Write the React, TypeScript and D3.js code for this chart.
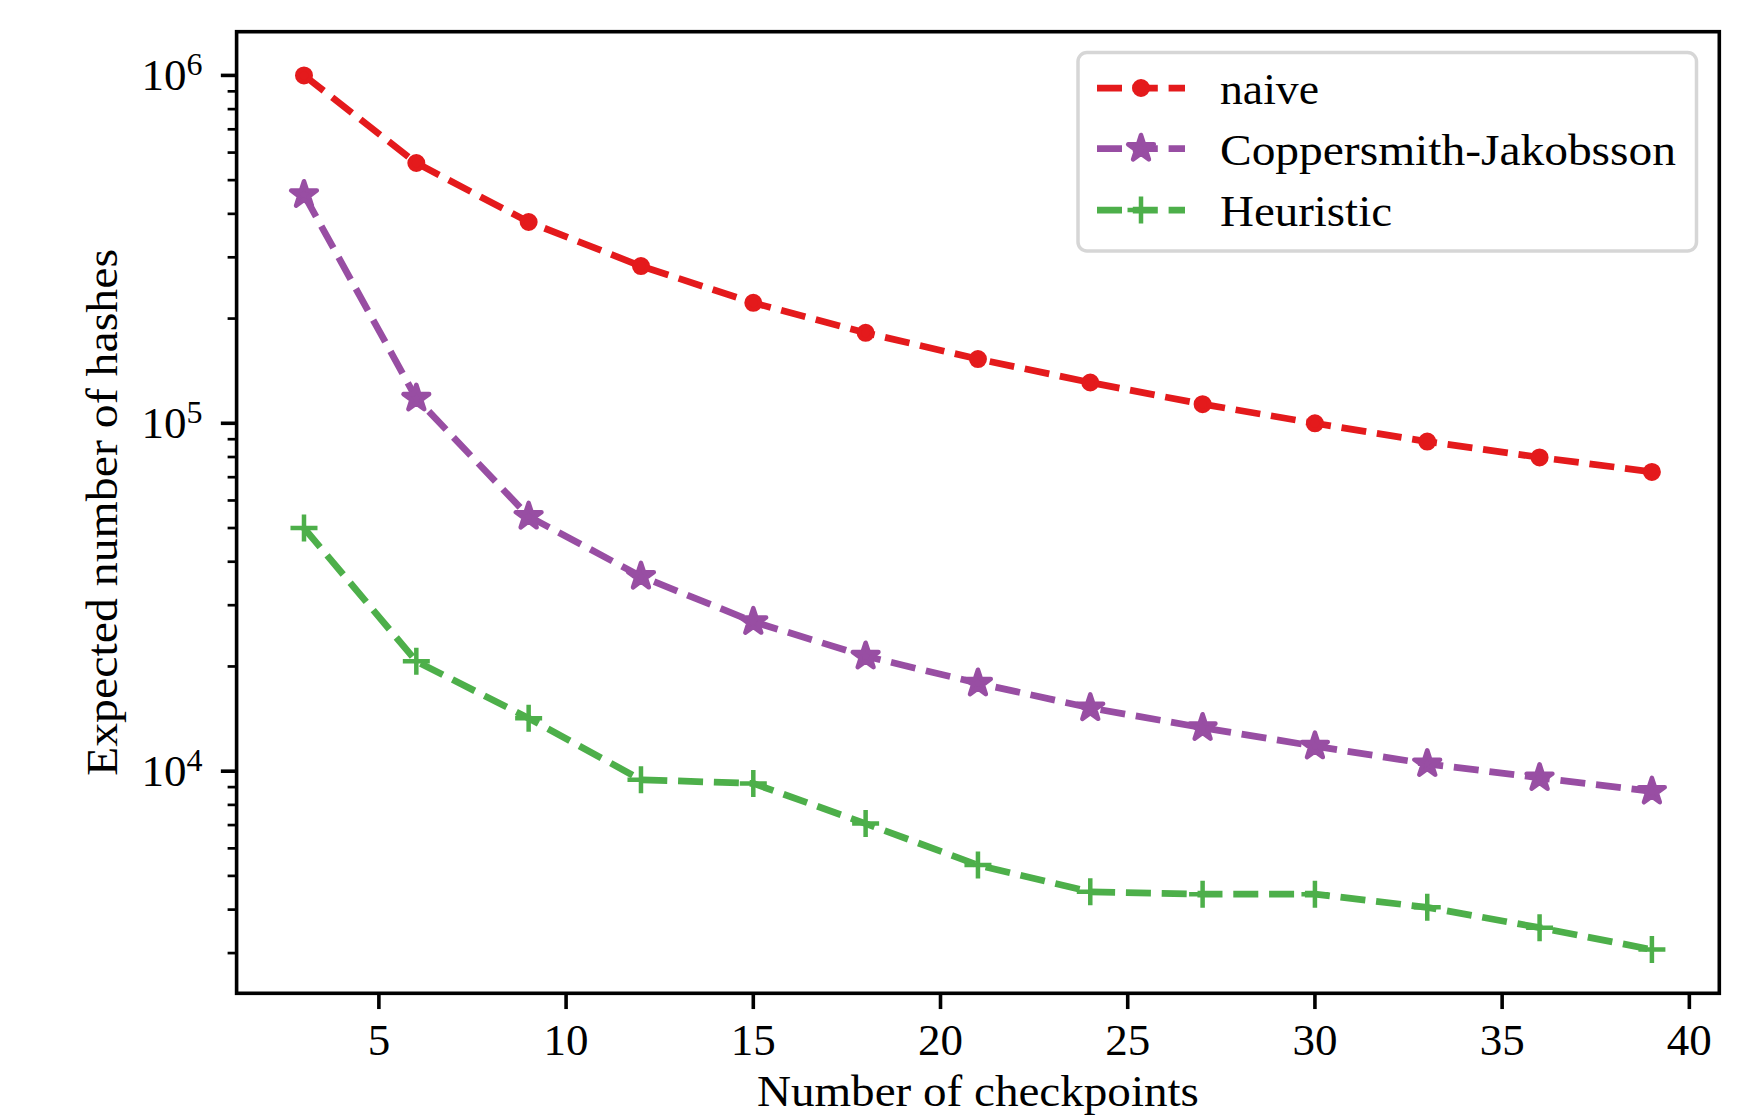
import React, { useEffect, useRef } from 'react';
import * as d3 from 'd3';

// values
const checkpoints = [3, 6, 9, 12, 15, 18, 21, 24, 27, 30, 33, 36, 39];
const naiveHashes = [1.0e6, 5.6e5, 3.79e5, 2.83e5, 2.22e5, 1.82e5, 1.53e5, 1.31e5, 1.135e5, 1.0e5, 8.86e4, 7.98e4, 7.25e4];
const coppersmithHashes = [4.54e5, 1.18e5, 5.4e4, 3.63e4, 2.69e4, 2.14e4, 1.79e4, 1.52e4, 1.333e4, 1.18e4, 1.05e4, 9.57e3, 8.75e3];
const heuristicHashes = [5.0e4, 2.07e4, 1.42e4, 9.45e3, 9.22e3, 7.07e3, 5.37e3, 4.5e3, 4.43e3, 4.43e3, 4.06e3, 3.55e3, 3.07e3];

const seriesNames = ['naive', 'Coppersmith-Jakobsson', 'Heuristic'];
const seriesColors = ['#e41a1c', '#984ea3', '#4daf4a'];
const seriesMarkers = ['dot', 'star', 'plus'];

const xTicks = [5, 10, 15, 20, 25, 30, 35, 40];
const yMajorTicks = [1e4, 1e5, 1e6];
const yTickExponents = ['4', '5', '6'];

const xLabel = 'Number of checkpoints';
const yLabel = 'Expected number of hashes';

const FONT = '"Liberation Serif", "DejaVu Serif", serif';

function App() {
  return (
    <div>
      <HashChart />
    </div>
  );
}

function drawMarker(g, kind, color, cx, cy) {
  if (kind === 'dot') {
    g.append('circle')
      .attr('cx', cx).attr('cy', cy).attr('r', 6.75)
      .attr('fill', color).attr('stroke', color).attr('stroke-width', 4.5);
  } else if (kind === 'star') {
    // outer radius 13.5px -> d3 star area
    const star = d3.symbol(d3.symbolStar, (13.5 * 13.5) / 0.8908130915292852);
    g.append('path')
      .attr('d', star())
      .attr('transform', `translate(${cx},${cy})`)
      .attr('fill', color).attr('stroke', color)
      .attr('stroke-width', 4.5).attr('stroke-linejoin', 'round');
  } else {
    const p = d3.path();
    p.moveTo(-13.5, 0); p.lineTo(13.5, 0);
    p.moveTo(0, -13.5); p.lineTo(0, 13.5);
    g.append('path')
      .attr('d', p.toString())
      .attr('transform', `translate(${cx},${cy})`)
      .attr('fill', 'none').attr('stroke', color).attr('stroke-width', 4.5);
  }
}

function HashChart() {
  const d3Container = useRef(null);

  useEffect(() => {
    if (!d3Container.current) return;
    const width = 1750;
    const height = 1118;
    const margin = { top: 31.7, right: 30.7, bottom: 124.7, left: 236.6 };
    const plotRight = width - margin.right;
    const plotBottom = height - margin.bottom;

    d3.select(d3Container.current).select('svg').remove();

    const svg = d3.select(d3Container.current)
      .append('svg')
      .attr('width', width)
      .attr('height', height)
      .style('position', 'absolute')
      .style('left', 0)
      .style('top', 0)
      .style('background', '#ffffff')
      .style('font-family', FONT);

    const allSeries = [naiveHashes, coppersmithHashes, heuristicHashes];

    // matplotlib-like 5% margins
    const xMin = d3.min(checkpoints), xMax = d3.max(checkpoints);
    const xPad = (xMax - xMin) * 0.05;
    const x = d3.scaleLinear()
      .domain([xMin - xPad, xMax + xPad])
      .range([margin.left, plotRight]);

    const lo = Math.log10(d3.min(allSeries.flat()));
    const hi = Math.log10(d3.max(allSeries.flat()));
    const lPad = (hi - lo) * 0.05;
    const y = d3.scaleLog()
      .domain([Math.pow(10, lo - lPad), Math.pow(10, hi + lPad)])
      .range([plotBottom, margin.top]);

    // lines + markers
    const line = d3.line()
      .x((d, i) => x(checkpoints[i]))
      .y(d => y(d));

    allSeries.forEach((values, s) => {
      const g = svg.append('g');
      g.append('path')
        .datum(values)
        .attr('d', line)
        .attr('fill', 'none')
        .attr('stroke', seriesColors[s])
        .attr('stroke-width', 6.75)
        .attr('stroke-dasharray', '25 10.8')
        .attr('stroke-linejoin', 'round');
      values.forEach((v, i) => drawMarker(g, seriesMarkers[s], seriesColors[s], x(checkpoints[i]), y(v)));
    });

    // frame
    svg.append('rect')
      .attr('x', margin.left).attr('y', margin.top)
      .attr('width', plotRight - margin.left).attr('height', plotBottom - margin.top)
      .attr('fill', 'none').attr('stroke', '#000').attr('stroke-width', 3.6);

    // x ticks
    xTicks.forEach(t => {
      svg.append('line')
        .attr('x1', x(t)).attr('x2', x(t))
        .attr('y1', plotBottom).attr('y2', plotBottom + 15.75)
        .attr('stroke', '#000').attr('stroke-width', 3.6);
      svg.append('text')
        .attr('x', x(t)).attr('y', plotBottom + 62)
        .attr('text-anchor', 'middle')
        .attr('font-size', 45)
        .text(String(t));
    });

    // y minor ticks
    const [dLo, dHi] = y.domain();
    for (let e = Math.floor(Math.log10(dLo)); e <= Math.ceil(Math.log10(dHi)); e++) {
      for (let m = 2; m <= 9; m++) {
        const v = m * Math.pow(10, e);
        if (v < dLo || v > dHi) continue;
        svg.append('line')
          .attr('x1', margin.left - 9).attr('x2', margin.left)
          .attr('y1', y(v)).attr('y2', y(v))
          .attr('stroke', '#000').attr('stroke-width', 2.7);
      }
    }

    // y major ticks
    yMajorTicks.forEach((t, i) => {
      svg.append('line')
        .attr('x1', margin.left - 15.75).attr('x2', margin.left)
        .attr('y1', y(t)).attr('y2', y(t))
        .attr('stroke', '#000').attr('stroke-width', 3.6);
      const txt = svg.append('text')
        .attr('x', margin.left - 34)
        .attr('y', y(t) + 15)
        .attr('text-anchor', 'end')
        .attr('font-size', 45);
      txt.append('tspan').text('10');
      txt.append('tspan').attr('dy', -15).attr('font-size', 32).text(yTickExponents[i]);
    });

    // axis labels
    svg.append('text')
      .attr('x', (margin.left + plotRight) / 2)
      .attr('y', 1106)
      .attr('text-anchor', 'middle')
      .attr('font-size', 45)
      .attr('textLength', 442)
      .attr('lengthAdjust', 'spacingAndGlyphs')
      .text(xLabel);

    svg.append('text')
      .attr('transform', `translate(117,${(margin.top + plotBottom) / 2}) rotate(-90)`)
      .attr('text-anchor', 'middle')
      .attr('font-size', 45)
      .attr('textLength', 527)
      .attr('lengthAdjust', 'spacingAndGlyphs')
      .text(yLabel);

    // legend
    const legend = svg.append('g');
    legend.append('rect')
      .attr('x', 1078).attr('y', 52.5)
      .attr('width', 618.5).attr('height', 198.5)
      .attr('rx', 9)
      .attr('fill', '#fff')
      .attr('stroke', '#d6d6d6').attr('stroke-width', 3.5);
    const rowY = [88, 148.5, 210];
    const labelWidths = [99, 456, 172];
    seriesNames.forEach((name, s) => {
      legend.append('line')
        .attr('x1', 1097).attr('x2', 1185)
        .attr('y1', rowY[s]).attr('y2', rowY[s])
        .attr('stroke', seriesColors[s])
        .attr('stroke-width', 6.75)
        .attr('stroke-dasharray', '25 10.8');
      drawMarker(legend, seriesMarkers[s], seriesColors[s], 1141, rowY[s]);
      legend.append('text')
        .attr('x', 1220).attr('y', rowY[s] + 16)
        .attr('font-size', 45)
        .attr('textLength', labelWidths[s])
        .attr('lengthAdjust', 'spacingAndGlyphs')
        .text(name);
    });
  }, []);

  return <div ref={d3Container} />;
}

export default App;
